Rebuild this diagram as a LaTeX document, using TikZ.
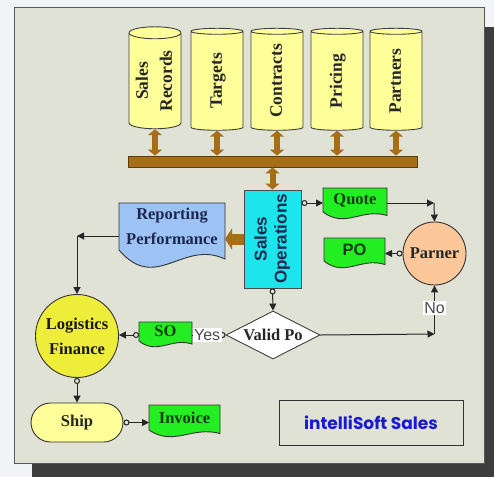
\documentclass[tikz,border=0pt]{standalone}
\usepackage{fontspec}
\usepackage{graphicx}
\setmainfont{Liberation Serif}
\setsansfont{Liberation Sans}
\newfontfamily\logofont{Poppins}
\usetikzlibrary{shapes.geometric,arrows.meta,calc}
\pgfdeclarelayer{back}\pgfdeclarelayer{shapes}
\pgfsetlayers{back,shapes,main}
\definecolor{panel}{HTML}{E0E2D5}
\definecolor{outerbg}{HTML}{F3F4F8}
\definecolor{shadowc}{HTML}{3E3E3E}
\definecolor{cylfill}{HTML}{FFFF99}
\definecolor{brownbar}{HTML}{A66F17}
\definecolor{browndark}{HTML}{5E3D08}
\definecolor{cyanbox}{HTML}{1CE6EC}
\definecolor{bluedoc}{HTML}{9DC3F5}
\definecolor{greendoc}{HTML}{22EE22}
\definecolor{yellowcirc}{HTML}{EEEE3A}
\definecolor{peach}{HTML}{FCC89A}
\definecolor{navytext}{HTML}{1C2850}
\definecolor{greentext}{HTML}{143C14}
\definecolor{logoblue}{HTML}{1A1AD0}
\newcommand\docshape[3]{%
  \draw[docline,fill=#2] (#1.north west) -- (#1.north east) -- ($(#1.south east)+(0,0.5*#3)$)
   .. controls ($(#1.south west)!0.6!(#1.south east)+(0,-0.6*#3)$)
   and ($(#1.south west)!0.35!(#1.south east)+(0,2.4*#3)$) .. (#1.south west) -- cycle;}
\newcommand\vtext[3]{\rotatebox{90}{\fontsize{#1}{#2}\selectfont\begin{tabular}{@{}c@{}}#3\end{tabular}}}
\tikzset{
  lbl/.style={font=\fontsize{16.5}{25}\selectfont\bfseries, align=center},
  cyl/.style={cylinder, shape border rotate=90, aspect=0.25, draw=black!75, line width=0.9pt,
    fill=cylfill, minimum height=102pt, minimum width=52pt, inner sep=0pt, font=\bfseries, text=black!85},
  docnode/.style={rectangle, inner sep=0pt, outer sep=0pt, lbl},
  docline/.style={draw=black!80, line width=0.9pt},
  conn/.style={draw=black!85, line width=1pt},
  tip/.style={-{Triangle[length=7pt,width=7pt]}},
  ctip/.style={{Circle[open,length=6pt,width=6pt]}-{Triangle[length=7pt,width=7pt]}},
  brownarrow/.style={draw=brownbar, line width=6pt,
    {Triangle[length=6pt,width=14pt]}-{Triangle[length=6pt,width=14pt]}},
  edgelbl/.style={fill=white, inner sep=1.5pt, font=\sffamily\fontsize{16}{18}\selectfont, text=black!70}
}
\begin{document}
\begin{tikzpicture}[x=1pt,y=-1pt]
\useasboundingbox (0,0) rectangle (494,477);
\begin{pgfonlayer}{back}
  \fill[outerbg] (0,0) rectangle (494,477);
  \fill[shadowc] (32,27) rectangle (494,477);
  \draw[fill=panel, draw=black!65, line width=0.8pt] (14,7) rectangle (484,463);
\end{pgfonlayer}

% databases
\node[cyl] (c1) at (155,81) {\vtext{17.5}{24}{Sales\\Records}};
\node[cyl] (c2) at (217,81) {\vtext{17.5}{24}{Targets}};
\node[cyl] (c3) at (277,81) {\vtext{17.5}{24}{Contracts}};
\node[cyl] (c4) at (337,81) {\vtext{17.5}{24}{Pricing}};
\node[cyl] (c5) at (396,81) {\vtext{17.5}{24}{Partners}};

% bus
\node[rectangle, fill=brownbar, draw=browndark, line width=0.8pt, minimum width=289pt, minimum height=11pt, inner sep=0pt] (bus) at (272.5,161.5) {};

% sales operations
\node[rectangle, fill=cyanbox, draw=black!70, line width=0.9pt, minimum width=57pt, minimum height=98pt, inner sep=0pt,
  font=\sffamily\bfseries, text=navytext] (ops) at (272.5,239) {\vtext{17}{20}{Sales\\Operations}};

% documents
\node[docnode, minimum width=106pt, minimum height=47pt, text=navytext] (rep) at (172,226.5) {Reporting\\Performance};
\node[docnode, minimum width=64pt, minimum height=24pt, text=greentext] (quote) at (355,200) {Quote};
\node[docnode, minimum width=61pt, minimum height=23pt, text=greentext, font=\sffamily\bfseries\fontsize{16.5}{18}\selectfont] (po) at (354.5,249.5) {PO};
\node[docnode, minimum width=53pt, minimum height=19pt, text=greentext] (sodoc) at (165.5,331.5) {SO};
\node[docnode, minimum width=71pt, minimum height=25pt, text=greentext] (inv) at (184.5,417.5) {Invoice};
\begin{pgfonlayer}{shapes}
  \docshape{rep}{bluedoc}{18}
  \docshape{quote}{greendoc}{7}
  \docshape{po}{greendoc}{7}
  \docshape{sodoc}{greendoc}{6}
  \docshape{inv}{greendoc}{7}
\end{pgfonlayer}

% other shapes
\node[circle, fill=yellowcirc, draw=black!80, line width=0.9pt, minimum size=83pt, inner sep=0pt, lbl, text=black!90] (logi) at (77,336) {Logistics\\Finance};
\node[circle, fill=peach, draw=black!80, line width=0.9pt, minimum size=63pt, inner sep=0pt, lbl, text=black!85] (par) at (434.5,253.5) {Parner};
\node[rectangle, rounded corners=19.5pt, fill=cylfill, draw=black!80, line width=0.9pt, minimum width=92pt, minimum height=39pt, inner sep=0pt, lbl, text=black!85] (ship) at (77,422.5) {Ship};
\node[diamond, aspect=2, fill=white, draw=black!75, line width=0.9pt, minimum width=94pt, minimum height=48pt, inner sep=0pt, lbl, text=black!85] (vp) at (273,335) {Valid Po};
\node[rectangle, draw=black!80, line width=1pt, fill=panel, minimum width=184pt, minimum height=45pt,
  font=\logofont\bfseries\fontsize{17}{20}\selectfont, text=logoblue] (logo) at (371,422.5) {intelliSoft Sales};

% corner points
\coordinate (kq) at (434,203);
\coordinate (kn) at (434,334);
\coordinate (kr) at (77,236);

% brown connectors
\foreach \c in {c1,c2,c3,c4,c5}{\draw[brownarrow] (\c.south) -- (\c.south |- bus.north);}
\draw[brownarrow] (bus.south -| ops.north) -- (ops.north);
\draw[draw=brownbar, line width=11pt, -{Triangle[length=7pt,width=21pt]}] (ops.west) -- (ops.west -| rep.east);

% flow connectors
\draw[conn,ctip] (kq -| ops.east) -- (kq -| quote.west);
\draw[conn,tip] (kq -| quote.east) -- (kq);
\draw[conn,tip] (kq) -- (par.north);
\draw[conn,ctip] (par.west) -- (par.west -| po.east);
\draw[conn,ctip] (ops.south) -- (vp.north);
\draw[conn,tip] (vp.east) -- (kn -| par.south);
\draw[conn,tip] (kn -| par.south) -- (par.south) node[edgelbl, pos=0.53] (nolbl) {No};
\draw[conn,{Circle[open,length=6pt,width=6pt]}-] (vp.west) -- (vp.west -| sodoc.east) node[edgelbl, pos=0.55] (yeslbl) {Yes};
\draw[conn,ctip] (vp.west -| sodoc.west) -- (vp.west -| logi.east);
\draw[conn,tip] (kr -| rep.west) -- (kr);
\draw[conn,tip] (kr) -- (logi.north);
\draw[conn,ctip] (logi.south) -- (ship.north);
\draw[conn,ctip] (ship.east) -- (ship.east -| inv.west);
\end{tikzpicture}
\end{document}
